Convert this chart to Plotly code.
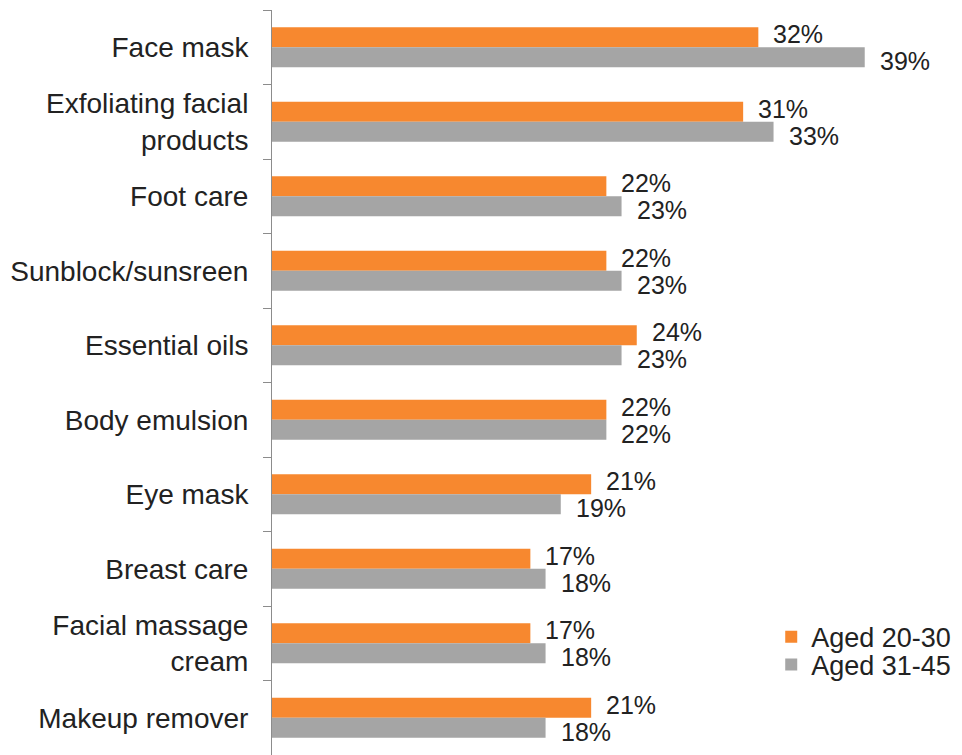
import plotly.graph_objects as go

categories = [
    "Face mask",
    "Exfoliating facial<br>products",
    "Foot care",
    "Sunblock/sunsreen",
    "Essential oils",
    "Body emulsion",
    "Eye mask",
    "Breast care",
    "Facial massage<br>cream",
    "Makeup remover",
]
aged_20_30 = [32, 31, 22, 22, 24, 22, 21, 17, 17, 21]
aged_31_45 = [39, 33, 23, 23, 23, 22, 19, 18, 18, 18]

ORANGE = "#F7882F"
GRAY = "#A5A5A5"
TEXT = "#222222"
FONT = "Liberation Sans, Arial, sans-serif"
LABEL_SIZE = 28
VALUE_SIZE = 25
LEGEND_SIZE = 27

series = [("Aged 20-30", aged_20_30, ORANGE, "legend", 13),
          ("Aged 31-45", aged_31_45, GRAY, "legend2", -14)]

fig = go.Figure()
for name, vals, color, leg, _ in series:
    fig.add_trace(go.Bar(
        y=categories, x=vals, orientation="h", name=name, legend=leg,
        marker=dict(color=color, line=dict(width=0)),
    ))

# value labels just past each bar end, orange row above the gray one
for name, vals, color, leg, dy in series:
    for cat, v in zip(categories, vals):
        fig.add_annotation(
            x=v, y=cat, xref="x", yref="y", text=f"{v}%",
            xanchor="left", yanchor="middle", xshift=13, yshift=dy,
            showarrow=False,
            font=dict(size=VALUE_SIZE, color=TEXT, family=FONT),
        )

legend_style = dict(
    xref="container", x=0.994, xanchor="right", yanchor="middle",
    bgcolor="rgba(0,0,0,0)", font=dict(size=LEGEND_SIZE, color=TEXT, family=FONT),
    itemwidth=30,
)

fig.update_layout(
    width=962, height=755,
    margin=dict(l=272, r=0, t=10, b=0, autoexpand=False),
    paper_bgcolor="white", plot_bgcolor="white",
    barmode="group", bargap=0.46, bargroupgap=0,
    font=dict(family=FONT, size=LABEL_SIZE, color=TEXT),
    showlegend=True,
    legend=dict(y=0.158, **legend_style),
    legend2=dict(y=0.121, **legend_style),
    xaxis=dict(range=[0, 45.4], visible=False, fixedrange=True),
    yaxis=dict(
        autorange="reversed", type="category",
        showline=True, linecolor="#8C8C8C", linewidth=1,
        ticks="outside", tickson="boundaries", ticklen=8, tickcolor="#8C8C8C",
        ticklabelstandoff=17, showgrid=False,
        tickfont=dict(size=LABEL_SIZE, color=TEXT, family=FONT),
    ),
)

fig.write_html("out.html")
